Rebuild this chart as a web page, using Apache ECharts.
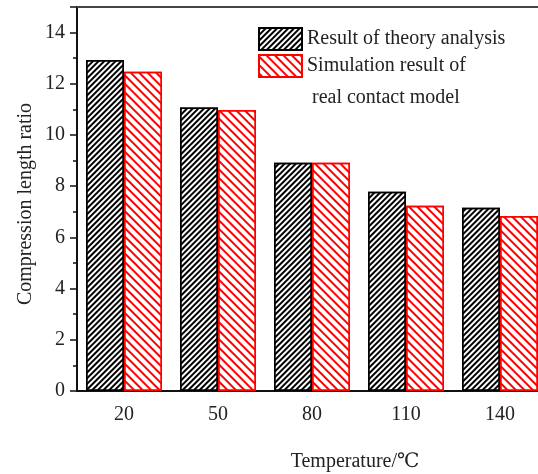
<!DOCTYPE html>
<html>
<head>
<meta charset="utf-8">
<script src="https://cdn.jsdelivr.net/npm/echarts@6/dist/echarts.min.js"></script>
<style>
  html, body { margin: 0; padding: 0; background: #fff; }
  #main { width: 538px; height: 474px; }
</style>
</head>
<body>
<div id="main"></div>
<script>
// 数据
var categories = ['20', '50', '80', '110', '140'];
var theoryData = [12.93, 11.07, 8.92, 7.78, 7.16];
var simData = [12.47, 10.98, 8.92, 7.24, 6.84];
var seriesNames = ['Result of theory analysis', 'Simulation result of real contact model'];

var myChart = echarts.init(document.getElementById('main'));
var serif = '"Liberation Serif", "DejaVu Serif", serif';

myChart.setOption({
    animation: false,
    legend: [{
        data: [seriesNames[0]],
        left: 258,
        top: 24,
        padding: 0,
        icon: 'rect',
        itemWidth: 43,
        itemHeight: 22,
        textStyle: { fontFamily: serif, fontSize: 20, color: '#222', lineHeight: 30 }
    }, {
        data: [seriesNames[1]],
        left: 258,
        top: 18,
        padding: 0,
        icon: 'rect',
        itemWidth: 43,
        itemHeight: 22,
        textStyle: { fontFamily: serif, fontSize: 20, color: '#222', lineHeight: 32 },
        // 第一行与图标对齐
        formatter: function () {
            return ' \nSimulation result of\n real contact model';
        }
    }],
    grid: {
        left: 77,
        right: -9,
        top: 7,
        bottom: 83,
        outerBoundsMode: 'none'
    },
    xAxis: [{
        type: 'category',
        data: categories,
        axisLine: { lineStyle: { color: '#111', width: 2 } },
        axisTick: { show: false },
        axisLabel: {
            fontFamily: serif,
            fontSize: 20,
            color: '#222',
            margin: 14
        },
        name: 'Temperature/\u2103',
        nameLocation: 'middle',
        nameGap: 61,
        nameMoveOverlap: false,
        nameTextStyle: {
            fontFamily: serif,
            fontSize: 20,
            color: '#222',
            padding: [0, 0, 0, 86]
        }
    }, {
        // 上边框
        type: 'value',
        position: 'top',
        axisLine: { show: true, lineStyle: { color: '#444', width: 2 } },
        axisTick: { show: false },
        axisLabel: { show: false },
        splitLine: { show: false }
    }],
    yAxis: {
        type: 'value',
        min: 0,
        max: 15,
        interval: 2,
        axisLine: { show: true, lineStyle: { color: '#111', width: 2 } },
        axisTick: { show: true, inside: false, length: 7, lineStyle: { color: '#111', width: 1.5 } },
        minorTick: { show: true, splitNumber: 2, length: 4, lineStyle: { color: '#111', width: 1.5 } },
        axisLabel: {
            fontFamily: serif,
            fontSize: 20,
            color: '#222',
            margin: 12,
            showMaxLabel: false
        },
        splitLine: { show: false },
        name: 'Compression length ratio',
        nameLocation: 'middle',
        nameGap: 41,
        nameMoveOverlap: false,
        nameTextStyle: {
            fontFamily: serif,
            fontSize: 20,
            color: '#222',
            padding: [0, 10, 0, 0]
        }
    },
    series: [{
        name: seriesNames[0],
        type: 'bar',
        data: theoryData,
        barWidth: 38,
        barGap: '0%',
        itemStyle: {
            color: '#fff',
            borderColor: '#000',
            borderWidth: 1.5,
            decal: {
                symbol: 'rect',
                symbolSize: 1,
                color: '#000',
                dashArrayX: [1, 0],
                dashArrayY: [1.4, 1.9],
                rotation: -Math.PI / 4
            }
        }
    }, {
        name: seriesNames[1],
        type: 'bar',
        data: simData,
        barWidth: 38,
        barGap: '0%',
        itemStyle: {
            color: '#fff',
            borderColor: '#ff0000',
            borderWidth: 1.5,
            decal: {
                symbol: 'rect',
                symbolSize: 1,
                color: '#ff0000',
                dashArrayX: [1, 0],
                dashArrayY: [1.4, 4],
                rotation: Math.PI / 4
            }
        }
    }]
});
</script>
</body>
</html>
